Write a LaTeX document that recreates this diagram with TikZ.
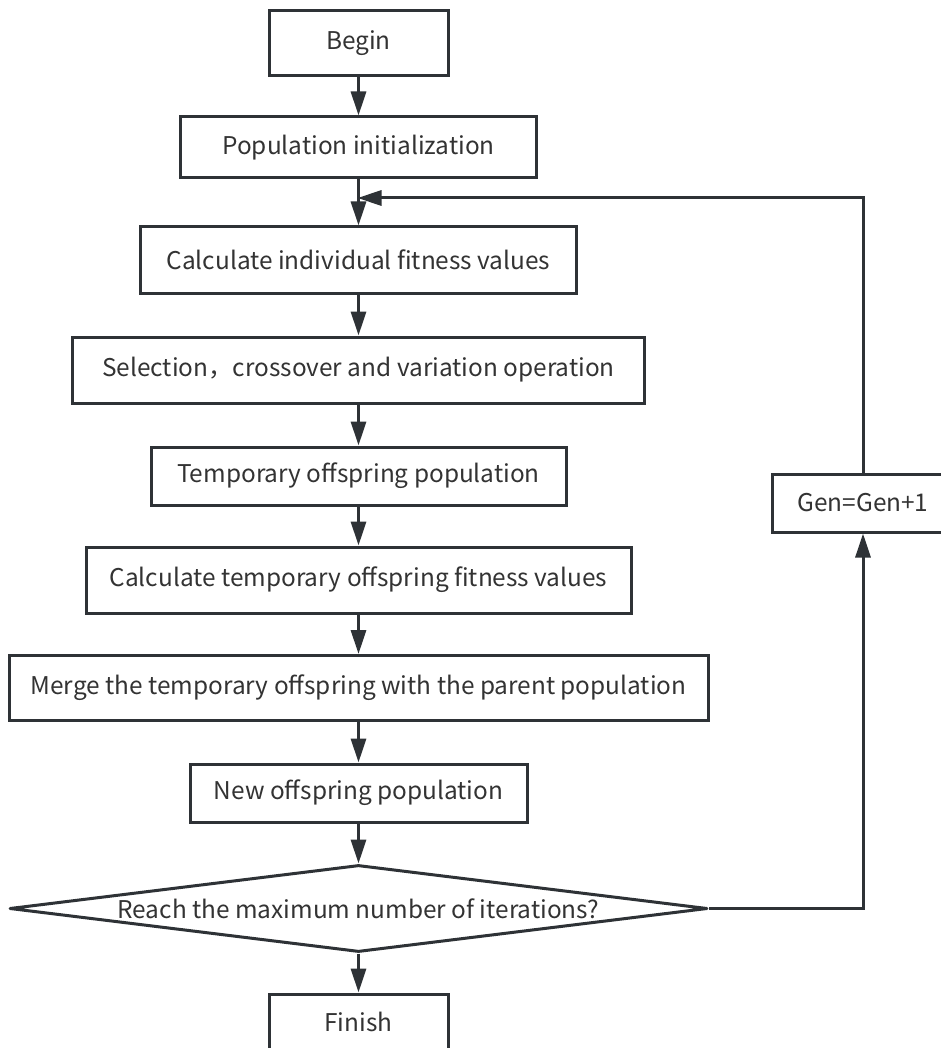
\documentclass[tikz,border=0pt]{standalone}
\usepackage{fontspec}
\setmainfont{Noto Sans CJK SC}
\usetikzlibrary{arrows.meta,shapes.geometric}
\definecolor{ln}{HTML}{2E3236}
\definecolor{tx}{HTML}{333333}
\begin{document}
\begin{tikzpicture}[x=1pt,y=-1pt,
  txt/.style={text=tx,font=\fontsize{24.4}{29}\selectfont},
  box/.style={rectangle,draw=ln,line width=3pt,fill=white,inner sep=0pt,txt},
  arr/.style={draw=ln,line width=3pt,-{Triangle[length=24pt,width=15pt]}},
  ]
\useasboundingbox (0,0) rectangle (940,1048);
\fill[white] (0,0) rectangle (940,1048);

\node[box,minimum width=179pt,minimum height=65pt] (begin) at (358.5,43.5) {Begin};
\node[box,minimum width=356pt,minimum height=61pt] (init) at (358.5,147.5) {Population initialization};
\node[box,minimum width=436pt,minimum height=66pt] (calc1) at (358.5,260) {Calculate individual fitness values};
\node[box,minimum width=572pt,minimum height=66pt] (sel) at (358.5,370) {Selection，crossover and variation operation};
\node[box,minimum width=415pt,minimum height=58pt] (temp) at (358.5,476) {Temporary offspring population};
\node[box,minimum width=545pt,minimum height=66pt] (calc2) at (358.5,580) {Calculate temporary offspring fitness values};
\node[box,minimum width=699pt,minimum height=65pt] (merge) at (358.5,688) {Merge the temporary offspring with the parent population};
\node[box,minimum width=337pt,minimum height=58pt] (newoff) at (358.5,793) {New offspring population};
\node[diamond,aspect=8,draw=ln,line width=3pt,line join=round,fill=white,inner sep=0pt,
      minimum width=698pt,minimum height=87pt] (dec) at (358.5,908.5) {};
\node[txt] (dectext) at (dec.center) {Reach the maximum number of iterations?};
\node[box,minimum width=179pt,minimum height=55pt] (finish) at (358.5,1021.5) {Finish};
\node[box,minimum width=182pt,minimum height=58pt] (gen) at (863,503) {Gen=Gen+1};

\coordinate (join) at (358.5,198);

\draw[arr] (begin.south) -- (init.north);
\draw[arr] (init.south) -- (calc1.north);
\draw[arr] (calc1.south) -- (sel.north);
\draw[arr] (sel.south) -- (temp.north);
\draw[arr] (temp.south) -- (calc2.north);
\draw[arr] (calc2.south) -- (merge.north);
\draw[arr] (merge.south) -- (newoff.north);
\draw[arr] (newoff.south) -- (dec.north);
\draw[arr] (dec.south) -- (finish.north);
\draw[arr] (dec.east) -| (gen.south);
\draw[arr,shorten >=-1pt] (gen.north) |- (join);
\end{tikzpicture}
\end{document}
